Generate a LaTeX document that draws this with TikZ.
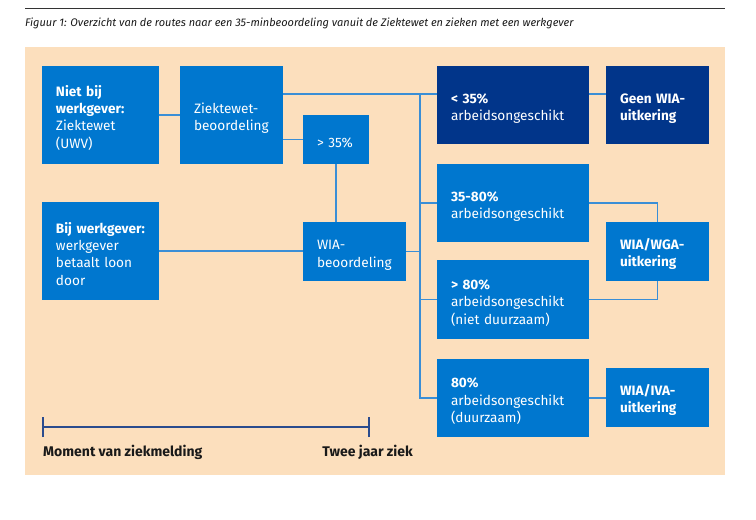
\documentclass[tikz,border=0pt]{standalone}
\usepackage{fontspec}
\setmainfont{Fira Sans}
\definecolor{bgorange}{HTML}{FCDFBD}
\definecolor{boxblue}{HTML}{0077CF}
\definecolor{boxnavy}{HTML}{01358A}
\definecolor{lineblue}{HTML}{3A8ED6}
\definecolor{timeblue}{HTML}{2B4C8E}
\definecolor{rulegray}{HTML}{333333}
\tikzset{
  box/.style n args={2}{fill=boxblue, text=white, align=left, font=\fontsize{13.6}{17.4}\selectfont,
    inner xsep=14pt, inner ysep=0pt, text width=#1-28pt, minimum height=#2, anchor=center,
    execute at begin node={\rule{0pt}{16.5pt}}},
  navybox/.style n args={2}{box={#1}{#2}, fill=boxnavy},
  conn/.style={draw=lineblue, line width=1.5pt},
  tline/.style={draw=timeblue, line width=1.5pt},
  tlabel/.style={font=\bfseries\fontsize{14}{16}\selectfont, text=black!90, inner sep=0pt}
}
\begin{document}
\begin{tikzpicture}[x=1pt,y=-1pt]
\useasboundingbox (0,0) rectangle (756,520);
\fill[white] (0,0) rectangle (756,520);
\draw[rulegray, line width=1pt] (25,8) coordinate (r1) -- (725,8) coordinate (r2);
\node[anchor=west, inner sep=0pt, font=\itshape\fontsize{11}{12}\selectfont, text=black!90] (cap) at (25,23)
  {Figuur 1: Overzicht van de routes naar een 35-minbeoordeling vanuit de Ziektewet en zieken met een werkgever};
\fill[bgorange] (25,47) rectangle (725,475);

% boxes
\node[box={117pt}{98pt}] (niet) at (100.5,115) {\textbf{Niet bij}\\\textbf{werkgever:}\\Ziektewet\\(UWV)};
\node[box={103pt}{98pt}] (zw) at (231.5,115) {Ziektewet-\\beoordeling};
\node[box={66pt}{49pt}] (gt35) at (336,139.5) {> 35\%};
\node[box={117pt}{98pt}] (bij) at (100.5,251) {\textbf{Bij werkgever:}\\werkgever\\betaalt loon\\door};
\node[box={103pt}{59pt}] (wia) at (354.5,251.5) {WIA-\\beoordeling};
\node[navybox={152pt}{78pt}] (lt35) at (513,105) {\textbf{< 35\%}\\arbeidsongeschikt};
\node[navybox={103pt}{78pt}] (geen) at (657.5,105) {\textbf{Geen WIA-}\\\textbf{uitkering}};
\node[box={152pt}{78pt}] (r3580) at (513,203) {\textbf{35-80\%}\\arbeidsongeschikt};
\node[box={103pt}{59pt}] (wga) at (657.5,251.5) {\textbf{WIA/WGA-}\\\textbf{uitkering}};
\node[box={152pt}{79pt}] (gt80) at (513,299.5) {\textbf{> 80\%}\\arbeidsongeschikt\\(niet duurzaam)};
\node[box={152pt}{78pt}] (r80) at (513,398) {\textbf{80\%}\\arbeidsongeschikt\\(duurzaam)};
\node[box={103pt}{59pt}] (iva) at (657.5,397.5) {\textbf{WIA/IVA-}\\\textbf{uitkering}};

% connectors
\coordinate (t1) at (420,94);
\draw[conn] (niet.east) -- (zw.west);
\draw[conn] (gt35.west) -- (gt35.west -| zw.east);
\draw[conn] (zw.east |- t1) -- (t1) -- (lt35.west |- t1);
\draw[conn] (lt35.east |- t1) -- (geen.west |- t1);
\draw[conn] (t1) -- (t1 |- r80.west) -- (r80.west);
\draw[conn] (t1 |- r3580.west) -- (r3580.west);
\draw[conn] (t1 |- gt80.west) -- (gt80.west);
\draw[conn] (wia.east) -- (t1 |- wia.east);
\draw[conn] (gt35.south) -- (gt35.south |- wia.north);
\draw[conn] (bij.east) -- (bij.east -| wia.west);
\draw[conn] (r3580.east) -- (wga.north |- r3580.east) -- (wga.north);
\draw[conn] (gt80.east) -- (wga.south |- gt80.east) -- (wga.south);
\draw[conn] (r80.east) -- (r80.east -| iva.west);

% timeline
\coordinate (tl) at (43,427);
\coordinate (tr) at (369,427);
\draw[tline] (tl) -- (tr);
\draw[tline] ([yshift=-10pt]tl) -- ([yshift=10pt]tl);
\draw[tline] ([yshift=-10pt]tr) -- ([yshift=10pt]tr);
\node[tlabel, anchor=west] (lstart) at (43,452) {Moment van ziekmelding};
\node[tlabel, anchor=east] (lend) at (413,452) {Twee jaar ziek};
\end{tikzpicture}
\end{document}
